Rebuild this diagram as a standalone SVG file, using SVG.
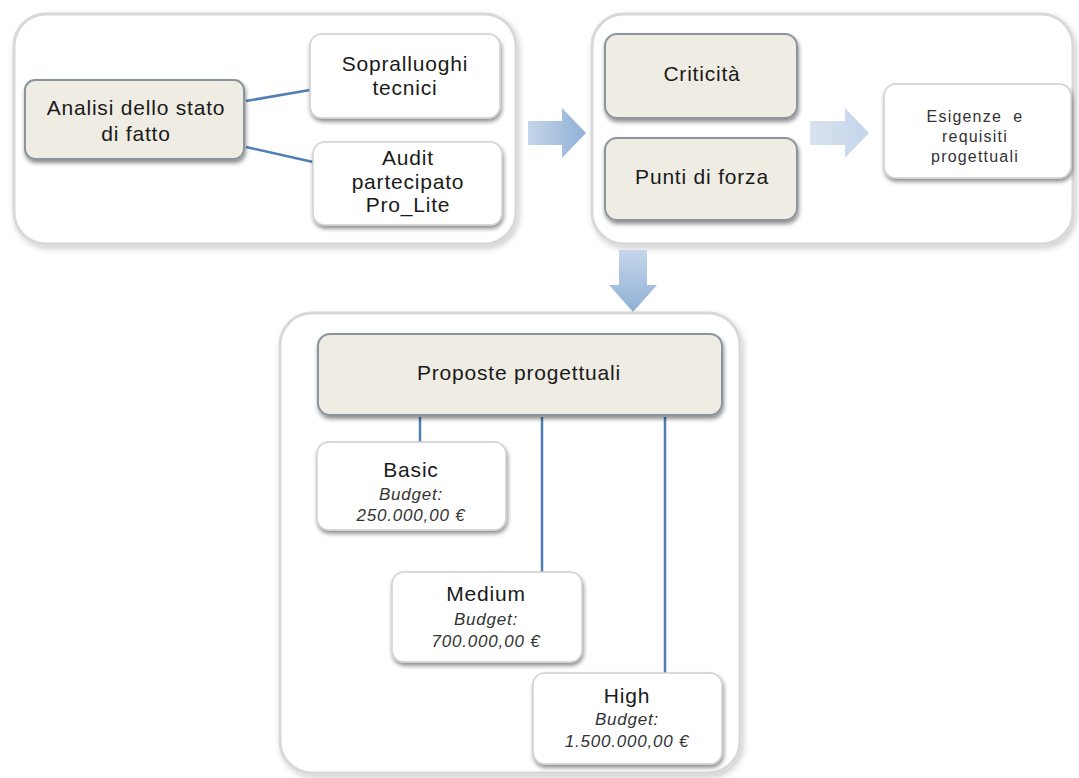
<svg xmlns="http://www.w3.org/2000/svg" width="1079" height="778" viewBox="0 0 1079 778">
<defs>
<filter id="sh" x="-10%" y="-10%" width="125%" height="130%">
<feGaussianBlur in="SourceAlpha" stdDeviation="2"/>
<feOffset dx="1" dy="3" result="b"/>
<feComponentTransfer><feFuncA type="linear" slope="0.45"/></feComponentTransfer>
<feMerge><feMergeNode/><feMergeNode in="SourceGraphic"/></feMerge>
</filter>
<filter id="sh2" x="-5%" y="-5%" width="112%" height="115%">
<feGaussianBlur in="SourceAlpha" stdDeviation="3"/>
<feOffset dx="2" dy="3" result="b"/>
<feComponentTransfer><feFuncA type="linear" slope="0.2"/></feComponentTransfer>
<feMerge><feMergeNode/><feMergeNode in="SourceGraphic"/></feMerge>
</filter>
<linearGradient id="ah" x1="0" y1="0" x2="1" y2="0">
<stop offset="0" stop-color="#c5d6ea"/>
<stop offset="1" stop-color="#8fb0d6"/>
</linearGradient>
<linearGradient id="al" x1="0" y1="0" x2="1" y2="0">
<stop offset="0" stop-color="#d9e3ef"/>
<stop offset="1" stop-color="#c3d4ea"/>
</linearGradient>
<linearGradient id="ad" x1="0" y1="0" x2="0" y2="1">
<stop offset="0" stop-color="#c5d6ea"/>
<stop offset="1" stop-color="#8fb0d6"/>
</linearGradient>
</defs>
<style>
.cont{fill:#ffffff;stroke:#d8d8d8;stroke-width:3}
.beige{fill:#eeece3;stroke:#8c959e;stroke-width:2}
.white{fill:#ffffff;stroke:#d0d0d0;stroke-width:1.5}
.t{font-family:"Liberation Sans",Arial,sans-serif;font-size:21px;letter-spacing:0.8px;fill:#1a1a1a;text-anchor:middle}
.s{font-family:"Liberation Sans",Arial,sans-serif;font-size:16px;letter-spacing:1.2px;fill:#333;text-anchor:middle}
.i{font-family:"Liberation Sans",Arial,sans-serif;font-size:17px;letter-spacing:0.8px;font-style:italic;fill:#333;text-anchor:middle}
.ln{stroke:#4f7fb6;stroke-width:2.5;fill:none}
</style>
<g id="containers">
<rect id="c1" x="14" y="14" width="502" height="230" rx="32" class="cont" filter="url(#sh2)"/>
<rect id="c2" x="592" y="14" width="481" height="230" rx="32" class="cont" filter="url(#sh2)"/>
<rect id="c3" x="280" y="313" width="460" height="460" rx="32" class="cont" filter="url(#sh2)"/>
</g>
<g id="connectors">
<line class="ln" x1="246" y1="101" x2="310" y2="90"/>
<line class="ln" x1="246" y1="147" x2="313" y2="162"/>
<line class="ln" x1="420" y1="417" x2="420" y2="442"/>
<line class="ln" x1="542" y1="417" x2="542" y2="572"/>
<line class="ln" x1="665" y1="417" x2="665" y2="673"/>
<polygon fill="url(#ah)" points="528,121 562,121 562,108 586,133 562,158 562,145 528,145"/>
<polygon fill="url(#al)" points="810,121 845,121 845,108 869,133 845,158 845,145 810,145"/>
<polygon fill="url(#ad)" points="619,250 647,250 647,285 657,285 633,312 609,285 619,285"/>
</g>
<g id="n-analisi">
<rect x="25" y="80" width="219" height="79" rx="10" class="beige" filter="url(#sh)"/>
<text class="t" x="136" y="115">Analisi dello stato</text>
<text class="t" x="136" y="141">di fatto</text>
</g>
<g id="n-sopralluoghi">
<rect x="310" y="34" width="190" height="84" rx="12" class="white" filter="url(#sh)"/>
<text class="t" x="405" y="71">Sopralluoghi</text>
<text class="t" x="405" y="95">tecnici</text>
</g>
<g id="n-audit">
<rect x="313" y="142" width="189" height="83" rx="12" class="white" filter="url(#sh)"/>
<text class="t" x="408" y="165">Audit</text>
<text class="t" x="408" y="189">partecipato</text>
<text class="t" x="408" y="212">Pro_Lite</text>
</g>
<g id="n-criticita">
<rect x="605" y="34" width="192" height="84" rx="12" class="beige" filter="url(#sh)"/>
<text class="t" x="702" y="81">Criticità</text>
</g>
<g id="n-punti">
<rect x="605" y="138" width="192" height="82" rx="12" class="beige" filter="url(#sh)"/>
<text class="t" x="702" y="184">Punti di forza</text>
</g>
<g id="n-esigenze">
<rect x="884" y="84" width="187" height="94" rx="12" class="white" filter="url(#sh)"/>
<text class="s" x="975" y="122" xml:space="preserve">Esigenze  e</text>
<text class="s" x="975" y="142">requisiti</text>
<text class="s" x="975" y="162">progettuali</text>
</g>
<g id="n-proposte">
<rect x="318" y="334" width="404" height="81" rx="12" class="beige" filter="url(#sh)"/>
<text class="t" x="519" y="380">Proposte progettuali</text>
</g>
<g id="n-basic">
<rect x="317" y="442" width="189" height="88" rx="12" class="white" filter="url(#sh)"/>
<text class="t" x="411" y="477">Basic</text>
<text class="i" x="411" y="500">Budget:</text>
<text class="i" x="411" y="521">250.000,00 €</text>
</g>
<g id="n-medium">
<rect x="392" y="572" width="190" height="90" rx="12" class="white" filter="url(#sh)"/>
<text class="t" x="486" y="601">Medium</text>
<text class="i" x="486" y="625">Budget:</text>
<text class="i" x="486" y="647">700.000,00 €</text>
</g>
<g id="n-high">
<rect x="533" y="673" width="189" height="91" rx="12" class="white" filter="url(#sh)"/>
<text class="t" x="627" y="703">High</text>
<text class="i" x="627" y="725">Budget:</text>
<text class="i" x="627" y="747">1.500.000,00 €</text>
</g>
</svg>
